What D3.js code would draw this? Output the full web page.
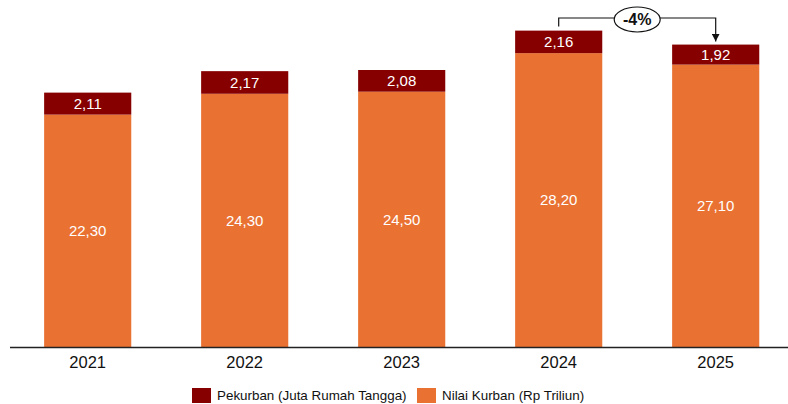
<!DOCTYPE html>
<html>
<head>
<meta charset="utf-8">
<script src="https://cdn.jsdelivr.net/npm/d3@7"></script>
<style>
  body { margin: 0; background: #fff; }
  svg { display: block; font-family: 'Liberation Sans', Arial, sans-serif; }
</style>
</head>
<body>
<svg id="chart" width="788" height="404"></svg>
<script>
// data
const years = ['2021', '2022', '2023', '2024', '2025'];
const nilaiKurban = [22.30, 24.30, 24.50, 28.20, 27.10];   // Rp Triliun
const pekurban = [2.11, 2.17, 2.08, 2.16, 1.92];           // Juta Rumah Tangga
const seriesNames = ['Pekurban (Juta Rumah Tangga)', 'Nilai Kurban (Rp Triliun)'];
const change = { from: '2024', to: '2025', label: '-4%' };

const colors = { pekurban: '#860000', nilai: '#E97132' };
const fmt = (v) => d3.format('.2f')(v).replace('.', ',');

const svg = d3.select('#chart');
const base = 347;

var x = d3.scaleBand()
    .domain(years)
    .range([9.2, 794.2])
    .paddingInner(0.445)
    .paddingOuter(0.2225);

var y = d3.scaleLinear()
    .domain([0, 33])
    .range([base, base - 343.9]);

const rows = years.map((yr, i) => ({ year: yr, nilai: nilaiKurban[i], pek: pekurban[i] }));

const bars = svg.append('g').selectAll('g')
    .data(rows)
    .join('g');

// bottom segment
bars.append('rect')
    .attr('x', (d) => x(d.year))
    .attr('width', x.bandwidth())
    .attr('y', (d) => y(d.nilai))
    .attr('height', (d) => y(0) - y(d.nilai))
    .attr('fill', colors.nilai);

// top segment
bars.append('rect')
    .attr('x', (d) => x(d.year))
    .attr('width', x.bandwidth())
    .attr('y', (d) => y(d.nilai + d.pek))
    .attr('height', (d) => y(d.nilai) - y(d.nilai + d.pek))
    .attr('fill', colors.pekurban);

bars.append('text')
    .attr('x', (d) => x(d.year) + x.bandwidth() / 2)
    .attr('y', (d) => (y(0) + y(d.nilai)) / 2)
    .attr('dy', '0.35em')
    .attr('text-anchor', 'middle')
    .attr('fill', '#fff')
    .style('font-size', '15px')
    .text((d) => fmt(d.nilai));

bars.append('text')
    .attr('x', (d) => x(d.year) + x.bandwidth() / 2)
    .attr('y', (d) => (y(d.nilai) + y(d.nilai + d.pek)) / 2)
    .attr('dy', '0.35em')
    .attr('text-anchor', 'middle')
    .attr('fill', '#fff')
    .style('font-size', '15px')
    .text((d) => fmt(d.pek));

// x axis
const xAxis = svg.append('g')
    .attr('transform', 'translate(0,' + base + ')')
    .call(d3.axisBottom(x).tickSize(0).tickPadding(9));
xAxis.select('.domain').attr('d', 'M10,0.5H788').attr('stroke', '#222').attr('stroke-width', 1.4);
xAxis.selectAll('text')
    .style('font-size', '16.5px')
    .style('font-family', "'Liberation Sans', Arial, sans-serif")
    .attr('fill', '#111');

// change annotation
const cx1 = x(change.from) + x.bandwidth() / 2;
const cx2 = x(change.to) + x.bandwidth() / 2;
const i1 = years.indexOf(change.from), i2 = years.indexOf(change.to);
const topY = 18;
const startY = y(nilaiKurban[i1] + pekurban[i1]) - 4;
const endY = y(nilaiKurban[i2] + pekurban[i2]) - 3;

svg.append('defs').append('marker')
    .attr('id', 'arrow')
    .attr('viewBox', '0 0 10 10')
    .attr('refX', 10).attr('refY', 5)
    .attr('markerWidth', 8).attr('markerHeight', 8)
    .attr('markerUnits', 'userSpaceOnUse')
    .attr('orient', 'auto')
    .append('path')
    .attr('d', 'M0,0L10,5L0,10Z')
    .attr('fill', '#111');

svg.append('path')
    .attr('d', `M${cx1},${startY}V${topY}H${cx2}V${endY}`)
    .attr('fill', 'none')
    .attr('stroke', '#111')
    .attr('stroke-width', 1.2)
    .attr('marker-end', 'url(#arrow)');

const mid = (cx1 + cx2) / 2;
svg.append('ellipse')
    .attr('cx', mid).attr('cy', 19.5)
    .attr('rx', 23).attr('ry', 12.5)
    .attr('fill', '#fff')
    .attr('stroke', '#111')
    .attr('stroke-width', 1.2);
svg.append('text')
    .attr('x', mid).attr('y', 19.5)
    .attr('dy', '0.36em')
    .attr('text-anchor', 'middle')
    .style('font-size', '16px')
    .style('font-weight', 'bold')
    .attr('fill', '#111')
    .text(change.label);

// legend
const legendItems = [
    { name: seriesNames[0], color: colors.pekurban, x: 192 },
    { name: seriesNames[1], color: colors.nilai, x: 417 },
];
const lg = svg.append('g').selectAll('g')
    .data(legendItems)
    .join('g')
    .attr('transform', (d) => 'translate(' + d.x + ',388)');
lg.append('rect')
    .attr('width', 19).attr('height', 15)
    .attr('fill', (d) => d.color);
lg.append('text')
    .attr('x', 25).attr('y', 7.5)
    .attr('dy', '0.35em')
    .style('font-size', '13.4px')
    .attr('fill', '#111')
    .text((d) => d.name);
</script>
</body>
</html>
